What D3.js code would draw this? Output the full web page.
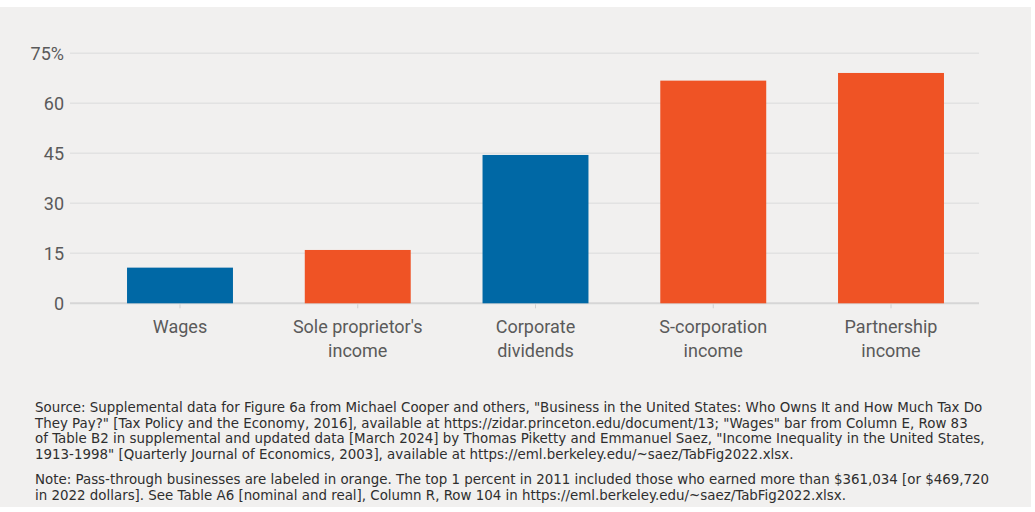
<!DOCTYPE html>
<html>
<head>
<meta charset="utf-8">
<script src="https://cdn.jsdelivr.net/npm/d3@7"></script>
<style>
  html, body { margin: 0; padding: 0; background: #ffffff; }
  svg { display: block; }
</style>
</head>
<body>
<svg id="chart" width="1035" height="512"></svg>
<script>
// Share of each income type received by the top 1 percent (percent)
const categories = [
  ["Wages"],
  ["Sole proprietor's", "income"],
  ["Corporate", "dividends"],
  ["S-corporation", "income"],
  ["Partnership", "income"]
];
const values = [10.7, 16.0, 44.5, 66.8, 69.1];
// true = pass-through business (drawn in orange)
const passThrough = [false, true, false, true, true];
const yTicks = [0, 15, 30, 45, 60, 75];
const yTickLabels = ["0", "15", "30", "45", "60", "75%"];

const sourceLines = [
  "Source: Supplemental data for Figure 6a from Michael Cooper and others, \"Business in the United States: Who Owns It and How Much Tax Do",
  "They Pay?\" [Tax Policy and the Economy, 2016], available at https://zidar.princeton.edu/document/13; \"Wages\" bar from Column E, Row 83",
  "of Table B2 in supplemental and updated data [March 2024] by Thomas Piketty and Emmanuel Saez, \"Income Inequality in the United States,",
  "1913-1998\" [Quarterly Journal of Economics, 2003], available at https://eml.berkeley.edu/~saez/TabFig2022.xlsx."
];
const noteLines = [
  "Note: Pass-through businesses are labeled in orange. The top 1 percent in 2011 included those who earned more than $361,034 [or $469,720",
  "in 2022 dollars]. See Table A6 [nominal and real], Column R, Row 104 in https://eml.berkeley.edu/~saez/TabFig2022.xlsx."
];

const svg = d3.select("#chart");

// panel background
svg.append("rect")
  .attr("x", 0).attr("y", 7)
  .attr("width", 1031).attr("height", 500)
  .attr("fill", "#f1f0ef");

const labelFont = "Roboto, 'Noto Sans', sans-serif";
const noteFont = "'DejaVu Sans', 'Noto Sans', sans-serif";

const gridLeft = 70, gridRight = 979;
const y = d3.scaleLinear().domain([0, 75]).range([303.3, 53.3]);

const idx = d3.range(categories.length);
const x = d3.scaleBand()
  .domain(idx)
  .range([73.7, 997.3])
  .paddingInner(0.404)
  .paddingOuter(0.3);

// horizontal gridlines
svg.append("g")
  .selectAll("line")
  .data(yTicks)
  .join("line")
  .attr("x1", gridLeft).attr("x2", gridRight)
  .attr("y1", d => y(d)).attr("y2", d => y(d))
  .attr("stroke", d => d === 0 ? "#d6d6d6" : "#e2e2e2")
  .attr("stroke-width", d => d === 0 ? 2 : 1.5);

// y tick labels
svg.append("g")
  .selectAll("text")
  .data(yTicks)
  .join("text")
  .attr("x", 64)
  .attr("y", d => y(d))
  .attr("dy", "0.35em")
  .attr("text-anchor", "end")
  .attr("font-family", labelFont)
  .attr("font-size", 18)
  .attr("fill", "#5a5a5a")
  .text((d, i) => yTickLabels[i]);

// bars
svg.append("g")
  .selectAll("rect")
  .data(values)
  .join("rect")
  .attr("x", (d, i) => x(i))
  .attr("width", x.bandwidth())
  .attr("y", d => y(d))
  .attr("height", d => y(0) - y(d))
  .attr("fill", (d, i) => passThrough[i] ? "#ef5325" : "#0068a5");

// small ticks below the baseline
svg.append("g")
  .selectAll("line")
  .data(idx)
  .join("line")
  .attr("x1", i => x(i) + x.bandwidth() / 2)
  .attr("x2", i => x(i) + x.bandwidth() / 2)
  .attr("y1", y(0) + 1).attr("y2", y(0) + 5)
  .attr("stroke", "#d0d0d0")
  .attr("stroke-width", 1);

// category labels
const catG = svg.append("g");
categories.forEach((lines, i) => {
  const t = catG.append("text")
    .attr("x", x(i) + x.bandwidth() / 2)
    .attr("y", 333)
    .attr("text-anchor", "middle")
    .attr("font-family", labelFont)
    .attr("font-size", 18)
    .attr("fill", "#5a5a5a");
  lines.forEach((ln, j) => {
    t.append("tspan")
      .attr("x", x(i) + x.bandwidth() / 2)
      .attr("dy", j === 0 ? 0 : 24)
      .text(ln);
  });
});

// source and note text
const noteG = svg.append("g")
  .attr("font-family", noteFont)
  .attr("font-size", 13.4)
  .attr("fill", "#2e2e2e");
sourceLines.forEach((ln, j) => {
  noteG.append("text").attr("x", 35).attr("y", 412 + j * 15.7).text(ln);
});
noteLines.forEach((ln, j) => {
  noteG.append("text").attr("x", 35).attr("y", 484 + j * 15.7).text(ln);
});
</script>
</body>
</html>
